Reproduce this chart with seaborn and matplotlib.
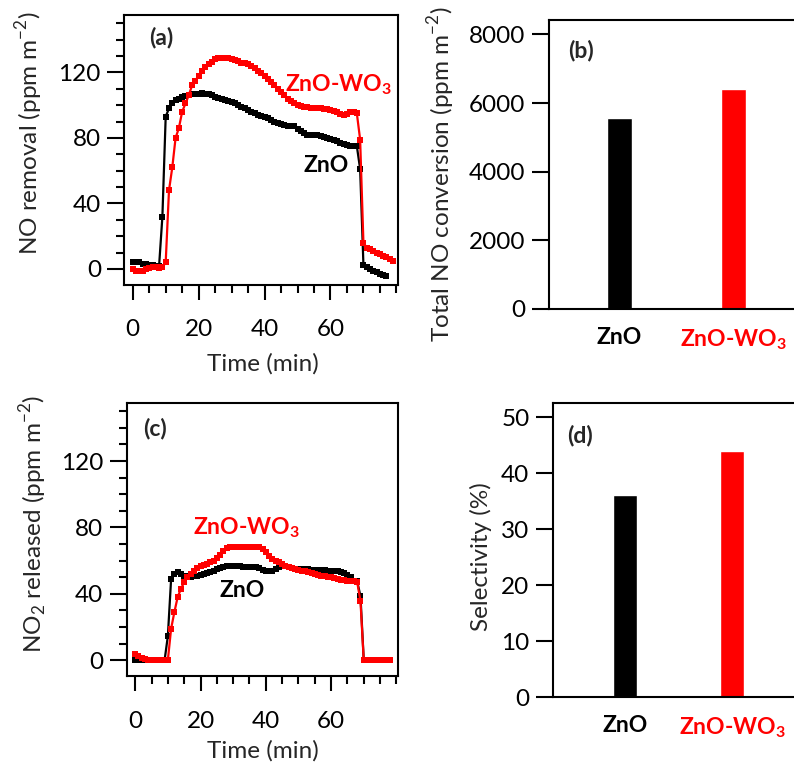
import numpy as np
import pandas as pd
import matplotlib
matplotlib.use("Agg")
import matplotlib.pyplot as plt
from matplotlib.ticker import MultipleLocator
import seaborn as sns

# ---- data ----
time_a_zno = list(range(0, 78))
no_removal_zno = [4, 4, 4, 3, 3, 2.5, 2.5, 2, 2, 32,
                  93, 98, 101, 103, 104, 105, 105.5, 106, 106.5, 107,
                  107, 107.5, 107, 106.5, 106, 105, 104.5, 104, 103, 102.5,
                  102, 101, 100, 99, 98, 97, 96, 95, 94, 93.5,
                  93, 92, 91, 90, 89, 88.5, 88, 87.5, 87.5, 87,
                  85.5, 84, 83, 82, 82, 81.5, 81.5, 81, 80.5, 80,
                  79.5, 79, 78, 77, 76, 75.5, 75, 75, 75, 61,
                  2.5, 1, 0, -1, -2, -3, -3.5, -4]
time_a_wo3 = list(range(0, 80))
no_removal_wo3 = [0, -1, -1.5, -1, 0, 0.5, 1, 1, 0.5, 1,
                  4, 48, 62, 80, 86, 96, 101, 106, 112, 115,
                  118, 121, 123, 125, 126.5, 128, 128.5, 129, 129, 128.5,
                  128, 127.5, 127, 126, 125.5, 125, 124, 122.5, 121, 119.5,
                  118, 116, 114, 112, 110, 108, 106, 104, 102.5, 101,
                  100, 99.5, 99, 99, 98.5, 98.5, 98, 98, 97.5, 97.5,
                  97, 96.5, 95.5, 94.5, 94, 94.5, 95.5, 95.5, 95, 79,
                  16, 13, 12, 11, 10, 9, 8, 7, 6, 5]

time_c_zno = list(range(0, 79))
no2_zno = [0, 0, 0, 0, 0, 0, 0, 0, 0, 0,
           14.5, 49, 52, 53, 52, 51, 50.5, 50, 50.5, 51,
           51.5, 52, 52.5, 53, 54, 55, 55.5, 56, 56.5, 57,
           57, 57, 56.5, 56, 56, 56, 56, 56, 55.5, 54.5,
           53.5, 53.5, 54, 55, 56, 57, 57, 56, 55.5, 55,
           55, 55, 55, 55, 54.5, 54.5, 54.5, 54.5, 54.5, 54,
           54, 54, 53.5, 53, 52.5, 51.5, 50, 48, 47.5, 38.5,
           0, 0, 0, 0, 0, 0, 0, 0, 0]
time_c_wo3 = list(range(0, 79))
no2_wo3 = [3.5, 2.5, 1.5, 0.5, 0, 0, 0, 0, 0, 0,
           0, 19, 29, 38, 43, 47, 50, 52, 54, 55.5,
           56.5, 57.5, 58, 59, 60, 61.5, 63.5, 65.5, 67.5, 68.5,
           68.5, 68.5, 68.5, 68.5, 68.5, 68.5, 68.5, 68.5, 68.5, 67,
           65, 63, 61, 60, 59, 58, 57, 56, 55.5, 55,
           54.5, 54, 53.5, 53, 52.5, 52, 51.5, 51, 50.5, 50,
           50, 49.5, 49, 48.5, 48.5, 48, 48, 47.5, 47, 35.5,
           0, 0, 0, 0, 0, 0, 0, 0, 0]

catalysts = ["ZnO", r"ZnO-WO$_{\mathbf{3}}$"]
total_no_conversion = [5560, 6410]
selectivity = [36.0, 44.0]

BLACK = "#000000"
RED = "#ff0000"

sns.set_theme(style="ticks")
plt.rcParams["font.family"] = ["Lato", "DejaVu Sans"]
plt.rcParams["mathtext.fontset"] = "custom"
plt.rcParams["mathtext.rm"] = "Lato"
plt.rcParams["mathtext.bf"] = "Lato:bold"
plt.rcParams["axes.linewidth"] = 1.5
plt.rcParams["axes.edgecolor"] = "black"

FS = 17.5
FSB = 16.5

fig = plt.figure(figsize=(7.94, 7.62), dpi=100)
ax_a = fig.add_axes([0.1568, 0.6266, 0.3445, 0.3537])
ax_c = fig.add_axes([0.1600, 0.1129, 0.3413, 0.3583])
ax_b = fig.add_axes([0.6914, 0.5945, 0.3200, 0.3793])
ax_d = fig.add_axes([0.6965, 0.0853, 0.3150, 0.3858])


def line_panel(ax, t1, y1, t2, y2):
    sns.lineplot(x=t1, y=y1, ax=ax, color=BLACK, marker="s", markersize=5,
                 markeredgewidth=0, linewidth=1.6)
    sns.lineplot(x=t2, y=y2, ax=ax, color=RED, marker="s", markersize=5,
                 markeredgewidth=0, linewidth=1.6)
    ax.set_xlim(-2.5, 80.5)
    ax.set_ylim(-9.5, 155)
    ax.set_xticks([0, 20, 40, 60])
    ax.set_yticks([0, 40, 80, 120])
    ax.xaxis.set_minor_locator(MultipleLocator(5))
    ax.yaxis.set_minor_locator(MultipleLocator(10))
    ax.tick_params(axis="x", which="major", length=11, width=1.5, pad=14,
                   labelsize=FS, colors="black")
    ax.tick_params(axis="y", which="major", length=12, width=1.5, pad=5,
                   labelsize=FS, colors="black")
    ax.tick_params(which="minor", length=6, width=1.5, colors="black")
    ax.set_xlabel("Time (min)", fontsize=FS)
    for s in ax.spines.values():
        s.set_linewidth(1.5)


line_panel(ax_a, time_a_zno, no_removal_zno, time_a_wo3, no_removal_wo3)
ax_a.set_ylabel(r"NO removal (ppm m$^{-2}$)", fontsize=FS)
ax_a.xaxis.set_label_coords(0.506, -0.255)
ax_a.yaxis.set_label_coords(-0.29, 0.56)
ax_a.text(0.135, 0.917, "(a)", transform=ax_a.transAxes, fontsize=FSB,
          fontweight="bold", ha="center", va="center")
ax_a.text(62.4, 112.6, r"ZnO-WO$_{\mathbf{3}}$", color=RED, fontsize=FSB,
          fontweight="bold", ha="center", va="center")
ax_a.text(58.6, 63, "ZnO", color=BLACK, fontsize=FSB, fontweight="bold",
          ha="center", va="center")

line_panel(ax_c, time_c_zno, no2_zno, time_c_wo3, no2_wo3)
ax_c.set_ylabel(r"NO$_2$ released (ppm m$^{-2}$)", fontsize=FS)
ax_c.xaxis.set_label_coords(0.5, -0.235)
ax_c.yaxis.set_label_coords(-0.284, 0.555)
ax_c.text(0.103, 0.905, "(c)", transform=ax_c.transAxes, fontsize=FSB,
          fontweight="bold", ha="center", va="center")
ax_c.text(34, 80, r"ZnO-WO$_{\mathbf{3}}$", color=RED, fontsize=FSB,
          fontweight="bold", ha="center", va="center")
ax_c.text(32.6, 42.2, "ZnO", color=BLACK, fontsize=FSB, fontweight="bold",
          ha="center", va="center")


def bar_panel(ax, values, ylim, step, xlim):
    df = pd.DataFrame({"cat": catalysts, "val": values})
    sns.barplot(data=df, x="cat", y="val", hue="cat", palette=[BLACK, RED],
                width=0.22, legend=False, ax=ax, saturation=1)
    ax.set_xlim(*xlim)
    ax.set_ylim(*ylim)
    ax.yaxis.set_major_locator(MultipleLocator(step))
    ax.spines["right"].set_visible(False)
    ax.tick_params(axis="x", length=0, pad=13, labelsize=FSB)
    ax.tick_params(axis="y", length=12, width=1.5, pad=5, labelsize=FS,
                   colors="black")
    ax.set_xlabel("")
    for lab, col in zip(ax.get_xticklabels(), [BLACK, RED]):
        lab.set_color(col)
        lab.set_fontweight("bold")
    for s in ax.spines.values():
        s.set_linewidth(1.5)


bar_panel(ax_b, total_no_conversion, (0, 8420), 2000, (-0.62, 1.61))
ax_b.set_ylabel(r"Total NO conversion (ppm m$^{-2}$)", fontsize=FS)
ax_b.yaxis.set_label_coords(-0.363, 0.467)
ax_b.text(0.125, 0.896, "(b)", transform=ax_b.transAxes, fontsize=FSB,
          fontweight="bold", ha="center", va="center")

bar_panel(ax_d, selectivity, (0, 52.5), 10, (-0.67, 1.66))
ax_d.set_ylabel("Selectivity (%)", fontsize=FS)
ax_d.yaxis.set_label_coords(-0.243, 0.476)
ax_d.text(0.109, 0.888, "(d)", transform=ax_d.transAxes, fontsize=FSB,
          fontweight="bold", ha="center", va="center")

fig.savefig("out.png", dpi=100)
